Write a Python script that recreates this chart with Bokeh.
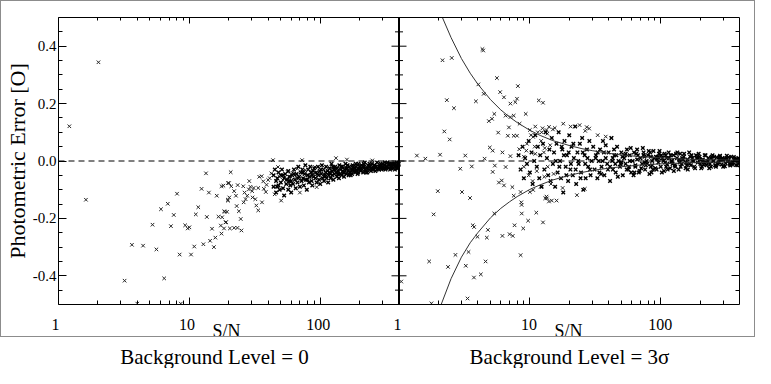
from bokeh.plotting import figure
from bokeh.layouts import column
from bokeh.models import (Range1d, LogScale, LogAxis, LinearAxis, FixedTicker,
                          PrintfTickFormatter, Span)
from bokeh.core.properties import value
from bokeh.embed import file_html
from bokeh.resources import INLINE

# ---------------- data ----------------
x_ticks = [1, 10, 100]
x_tick_labels = ["1", "10", "100"]
y_ticks = [-0.4, -0.2, 0.0, 0.2, 0.4]
y_minor = [-0.45, -0.35, -0.3, -0.25, -0.15, -0.1, -0.05,
           0.05, 0.1, 0.15, 0.25, 0.3, 0.35, 0.45]
sn_range = [1, 400]
err_range = [-0.5, 0.5]
x_title = "S/N"
y_title = "Photometric Error [O]"
panel_titles = ["Background Level = 0", "Background Level = 3\u03c3"]

# left panel: scattered points
left_sn = [1.21, 2.02, 1.62, 3.2, 3.64, 4.43, 4.0, 5.23, 5.6, 6.07, 6.42, 6.84, 7.23, 7.6,
           8.05, 8.43, 8.6, 9.29, 9.72, 10.0, 10.3, 10.9, 11.2, 11.7, 12.4, 12.8, 13.4, 13.6,
           14.1, 14.4, 14.9, 15.4, 15.8, 16.2, 16.7, 17.4, 17.6, 18.2, 18.5, 18.9, 19.4, 19.7,
           20.1, 20.4, 20.7,
           17.6, 19.7, 20.9, 22.0, 20.2, 22.7, 19.7, 18.6, 17.8, 19.1, 18.4, 22.0, 23.3, 23.0,
           23.9, 24.7, 25.0, 25.8, 26.4, 26.9, 27.7, 28.5, 29.3, 30.2, 31.0, 31.9, 32.5, 33.6,
           34.2, 35.7, 36.7, 37.1, 38.4, 38.9, 40.0, 41.1, 42.3, 43.6, 44.9, 46.3, 47.6, 50.3,
           48.9, 51.8, 54.8, 56.3, 58.0, 59.7, 61.4, 65.0, 66.8, 69.9, 72.7, 74.6, 76.8, 81.4,
           86.1, 94.0, 91.3, 23.4, 26.0, 28.7, 30.4, 33.6, 35.9, 132, 160, 250]
left_err = [0.121, 0.344, -0.135, -0.417, -0.292, -0.295, -0.497, -0.222, -0.308, -0.168,
            -0.409, -0.149, -0.227, -0.188, -0.114, -0.326, -0.497, -0.224, -0.235, -0.231,
            -0.326, -0.298, -0.186, -0.161, -0.097, -0.29, -0.043, -0.195, -0.110, -0.278,
            -0.236, -0.300, -0.267, -0.121, -0.194, -0.225, -0.253, -0.086, -0.175, -0.214,
            -0.177, -0.135, -0.077, -0.235, -0.039,
            -0.088, -0.077, -0.088, -0.105, -0.127, -0.121, -0.138, -0.177, -0.196, -0.213,
            -0.235, -0.233, -0.233, -0.157, -0.175, -0.202, -0.242, -0.088, -0.110, -0.133,
            -0.121, -0.099, -0.090, -0.105, -0.094, -0.133, -0.155, -0.172, -0.055, -0.053,
            -0.071, -0.097, -0.108, -0.083, -0.066, -0.060, -0.043, 0.003, -0.116, -0.088,
            -0.021, -0.138, -0.055, -0.066, -0.066, -0.038, -0.077, -0.055, -0.041, -0.055,
            -0.027, -0.110, 0.003, -0.066, -0.032, -0.049, -0.038, -0.091, -0.021, -0.084,
            -0.144, -0.070, -0.127, -0.094, -0.144, 0.010, 0.005, 0.002]

# left panel: dense band
left_band_sn = [44, 44, 45, 46, 46, 47, 48, 48, 49, 50, 50, 51, 52, 53, 53, 54, 55, 56, 57, 57,
                58, 59, 60, 60,
                61, 62, 63, 64, 65, 66, 67, 68, 69, 70, 71, 72, 73, 74, 75, 76, 77, 78, 79, 80,
                81, 82, 83, 84, 85, 86, 87, 88, 89, 90,
                92, 93, 94, 96, 97, 98, 99, 100, 102, 103, 104, 106, 107, 108, 110, 111, 112,
                114, 115, 116, 118, 119, 120, 122, 123, 124, 126, 127, 128, 130,
                132, 134, 135, 137, 139, 140, 142, 144, 146, 148, 150, 152, 154, 156, 158, 160,
                163, 165, 167, 170, 172, 175, 177, 180, 182, 185, 188, 190, 193, 196, 198, 200,
                204, 207, 210, 213, 216, 219, 222, 226, 229, 232, 236, 240, 244, 248, 252, 256,
                260, 264, 268, 272, 277, 281, 286, 290, 295, 300,
                305, 310, 315, 320, 326, 331, 337, 342, 348, 354, 360, 366, 372, 378, 384, 390,
                396,
                125, 138, 145, 153, 162, 171, 178, 187, 195, 205, 215, 225, 235, 246, 258, 270,
                283, 297, 312, 325, 340, 355, 370, 385, 398,
                47, 52, 58, 63, 68, 74, 80, 87, 95, 101, 109, 117, 129, 136, 149, 157, 168, 179,
                189, 199, 211, 223, 238, 250, 263, 276, 289, 302, 318, 333, 350, 363, 376, 392]
left_band_err = [-0.05, -0.09, -0.03, -0.07, -0.11, -0.06, -0.04, -0.085, -0.10, -0.05,
                 -0.075, -0.03, -0.095, -0.06, -0.12, -0.045, -0.08, -0.065, -0.10, -0.035,
                 -0.055, -0.085, -0.07, -0.11,
                 -0.05, -0.08, -0.03, -0.065, -0.095, -0.045, -0.075, -0.02, -0.055, -0.09,
                 -0.04, -0.07, -0.03, -0.06, -0.085, -0.045, -0.015, -0.065, -0.10, -0.05,
                 -0.03, -0.075, -0.055, -0.02, -0.04, -0.07, -0.085, -0.035, -0.055, -0.025,
                 -0.06, -0.04, -0.075, -0.02, -0.05, -0.065, -0.035, -0.08, -0.045, -0.015,
                 -0.06, -0.03, -0.07, -0.05, -0.04, -0.02, -0.06, -0.035, -0.075, -0.05,
                 -0.025, -0.045, -0.06, -0.01, -0.035, -0.05, -0.065, -0.03, -0.045, -0.02,
                 -0.04, -0.055, -0.025, -0.035, -0.06, -0.015, -0.045, -0.03, -0.05, -0.02,
                 -0.04, -0.055, -0.03, -0.01, -0.045, -0.025, -0.035, -0.05, -0.02, -0.04,
                 -0.03, -0.045, -0.015, -0.035, -0.025, -0.04, -0.02, -0.03, -0.045, -0.01,
                 -0.03, -0.02,
                 -0.035, -0.015, -0.03, -0.04, -0.02, -0.005, -0.03, -0.025, -0.04, -0.015,
                 -0.03, -0.02, -0.035, -0.01, -0.025, -0.03, -0.015, -0.035, -0.02, -0.005,
                 -0.025, -0.03, -0.015, -0.02, -0.03, -0.01,
                 -0.025, -0.015, -0.03, -0.02, -0.005, -0.025, -0.015, -0.03, -0.02, -0.01,
                 -0.025, -0.015, -0.03, -0.02, -0.005, -0.02, -0.015,
                 -0.02, -0.045, -0.02, -0.04, -0.015, -0.05, -0.03, -0.01, -0.04, -0.025,
                 -0.01, -0.04, -0.02, -0.025, -0.015, -0.03, -0.02, -0.025, -0.005, -0.02,
                 -0.01, -0.02, -0.01, -0.025, -0.01,
                 -0.09, -0.05, -0.07, -0.045, -0.06, -0.04, -0.065, -0.05, -0.045, -0.03,
                 -0.055, -0.04, -0.03, -0.045, -0.035, -0.025, -0.04, -0.02, -0.035, -0.025,
                 -0.02, -0.035, -0.01, -0.03, -0.02, -0.025, -0.01, -0.02, -0.025, -0.01,
                 -0.025, -0.01, -0.015, -0.025]

# right panel: scattered points
right_sn = [4.34, 4.40, 2.15, 2.53, 2.32, 2.63, 2.22, 2.44, 4.04, 4.44, 3.87, 5.6, 5.93, 6.34,
            8.1, 7.1, 7.74, 7.97, 9.3, 11.7, 12.6, 4.86, 5.14, 5.35, 6.53, 7.1, 7.53, 6.92,
            8.35, 5.73, 6.79, 7.53, 7.97, 4.94, 5.2, 1.37, 1.59, 2.06, 3.21, 4.51, 6.17, 7.1,
            8.3, 9.4, 10.0, 10.6, 12.5, 13.4, 14.0,
            2.94, 3.6, 1.98, 1.84, 3.03, 3.49, 1.7, 2.37, 2.7, 3.24, 3.4, 3.74, 4.22, 3.34,
            1.77, 1.04, 3.66, 3.75, 3.98, 4.78, 4.69, 4.59, 5.35, 6.17, 7.0, 7.4, 8.5, 7.64,
            8.9, 9.7, 8.67, 8.6, 8.65, 11.2, 12.6, 13.1, 7.53, 8.5, 10.0, 10.6, 13.4, 14.0,
            5.8, 6.1, 6.34, 7.35, 5.2, 5.4, 6.53,
            22.9, 26.3, 13.5, 14.7, 16.0, 17.8, 27.2, 28.4, 41.9,
            9.5, 10.2, 10.9, 11.5, 12.2, 12.8, 13.6, 14.3, 15.0, 9.0, 11.0, 13.0,
            9.0, 9.8, 10.5, 11.3, 12.1, 12.9, 13.7, 14.5, 15.2,
            11.0, 12.3, 15.5, 18.0, 20.5, 24.0, 26.5, 33.0, 38.0]
right_err = [0.390, 0.385, 0.351, 0.359, 0.212, 0.184, 0.103, 0.075, 0.267, 0.234, 0.208,
             0.289, 0.240, 0.222, 0.261, 0.200, 0.205, 0.217, 0.164, 0.211, 0.203, 0.139,
             0.147, 0.164, 0.158, 0.153, 0.158, 0.117, 0.130, 0.099, 0.088, 0.088, 0.088,
             0.047, 0.036, 0.019, 0.008, 0.022, 0.019, 0.008, 0.030, 0.017, 0.041, 0.036,
             0.108, 0.084, 0.114, 0.108, 0.119,
             -0.027, -0.019, -0.105, -0.186, -0.108, -0.129, -0.350, -0.369, -0.327, -0.365,
             -0.317, -0.406, -0.395, -0.479, -0.496, -0.420, -0.224, -0.230, -0.264, -0.240,
             -0.267, -0.350, -0.183, -0.261, -0.255, -0.261, -0.328, -0.224, -0.235, -0.208,
             -0.183, -0.144, -0.153, -0.180, -0.214, -0.130, -0.121, -0.108, -0.108, -0.101,
             -0.124, -0.141, -0.075, -0.068, -0.085, -0.091, -0.038, -0.016, -0.021,
             -0.119, -0.097, -0.130, -0.138, -0.138, -0.094, 0.118, 0.113, 0.079,
             0.06, 0.09, 0.05, 0.10, 0.07, 0.03, 0.095, 0.055, 0.11, 0.015, 0.025, 0.045,
             -0.02, -0.05, -0.07, -0.035, -0.09, -0.055, -0.02, -0.08, -0.045,
             0.12, 0.10, 0.115, 0.13, 0.12, 0.125, 0.105, 0.09, 0.085]

# right panel: dense band
right_band_sn = [8.2, 8.5, 8.8, 9.0, 9.2, 9.5, 9.8, 10.0, 10.3, 10.5, 10.8, 11.0, 11.3, 11.5,
                 11.8, 12.0, 12.3, 12.6, 12.9, 13.2, 13.5, 13.8, 14.1, 14.4, 14.7, 15.0,
                 15.3, 15.6, 16.0, 16.3, 16.6, 17.0, 17.3, 17.7, 18.0, 18.4, 18.8, 19.2, 19.6,
                 20.0, 20.4, 20.8, 21.3, 21.7, 22.2, 22.6, 23.1, 23.6, 24.1, 24.6, 25.1, 25.6,
                 26.2, 26.7, 27.3, 27.9, 28.5, 29.1, 29.7,
                 15.8, 16.8, 17.5, 18.2, 19.0, 19.8, 20.6, 21.5, 22.4, 23.4, 24.4, 25.4, 26.5,
                 27.6, 28.8,
                 30.5, 31.2, 32.0, 32.8, 33.6, 34.4, 35.3, 36.2, 37.1, 38.0, 39.0, 40.0, 41.0,
                 42.0, 43.1, 44.2, 45.3, 46.4, 47.6, 48.8, 50.0, 51.3, 52.6, 53.9, 55.2, 56.6,
                 58.0, 59.5, 31.8, 34.0, 36.8, 39.5, 42.6, 45.8, 49.4, 53.2, 57.3,
                 61, 62.5, 64, 66, 68, 70, 72, 74, 76, 78, 80, 82, 84, 86, 88, 91, 94, 97, 100,
                 103, 106, 109, 112, 115, 118, 63, 67, 71, 75, 79, 83, 87, 92, 96, 101, 105,
                 110, 116,
                 121, 125, 129, 133, 137, 141, 145, 150, 155, 160, 165, 170, 175, 180, 186,
                 192, 198, 204, 210, 217, 224, 231, 238, 245, 123, 131, 139, 148, 158, 168,
                 178, 190, 201, 214, 228, 242,
                 252, 260, 268, 276, 284, 292, 300, 309, 318, 327, 336, 346, 356, 366, 376,
                 387, 398, 256, 264, 280, 296, 313, 331, 350, 370, 392,
                 33, 35, 38, 41, 44, 47, 51, 55, 59, 62, 65, 69, 73, 77, 81, 85, 89, 93, 98,
                 102, 107, 113, 119, 126, 134, 142, 151, 161, 172, 183, 195, 207, 220, 235,
                 249, 265, 282, 300, 320, 340, 362, 385,
                 36, 43, 50, 58, 66, 76, 86, 97, 108, 122, 138, 156, 176, 199, 225, 254, 287,
                 325, 367, 396,
                 45, 54, 64, 74, 84, 95, 111, 128, 146, 166, 188, 213, 242, 273, 310, 352, 380]
right_band_err = [0.02, -0.03, 0.05, -0.06, 0.01, -0.01, 0.07, -0.04, 0.03, -0.08, 0.0, 0.09,
                  -0.02, 0.05, -0.06, 0.02, -0.09, 0.06, -0.03, 0.10, 0.01, -0.05, 0.04,
                  -0.07, 0.08, -0.01,
                  0.03, -0.09, 0.06, -0.04, 0.10, 0.0, -0.06, 0.04, -0.11, 0.07, -0.02, 0.02,
                  -0.07, 0.09, -0.03, 0.05, -0.05, 0.01, 0.12, -0.08, 0.03, -0.01, 0.06,
                  -0.04, 0.08, -0.10, 0.02, -0.06, 0.04, -0.02, 0.07, -0.05, 0.0,
                  0.0, -0.02, 0.05, 0.02, -0.05, 0.03, -0.01, 0.06, -0.03, 0.0, -0.06, 0.03,
                  -0.01, 0.01, -0.03,
                  0.05, -0.03, 0.02, -0.06, 0.0, 0.04, -0.02, 0.07, -0.05, 0.01, -0.01, 0.03,
                  -0.07, 0.08, -0.03, 0.02, -0.04, 0.05, 0.0, -0.02, 0.03, -0.05, 0.01, -0.01,
                  0.04, -0.03, 0.02, -0.04, 0.01, -0.04, 0.03, -0.03, 0.0, 0.02, -0.01, 0.02,
                  -0.02,
                  0.0, 0.03, -0.02, 0.04, -0.04, 0.01, -0.01, 0.03, -0.03, 0.0, 0.02, -0.045,
                  0.015, -0.015, 0.035, -0.025, 0.005, 0.025, -0.02, 0.01, -0.035, 0.02, -0.01,
                  0.03, -0.025, -0.04, 0.02, -0.025, 0.015, -0.01, 0.03, -0.03, 0.015, -0.005,
                  0.02, 0.0, -0.02, 0.01,
                  0.0, 0.02, -0.02, 0.01, -0.03, 0.025, -0.01, 0.015, -0.025, 0.005, 0.03,
                  -0.015, 0.01, -0.02, 0.02, -0.005, 0.015, -0.025, 0.005, 0.02, -0.015, 0.01,
                  -0.01, 0.015, -0.01, 0.025, -0.005, 0.005, -0.015, 0.015, 0.0, 0.01, -0.01,
                  -0.005, 0.0, -0.02,
                  0.0, -0.015, 0.012, -0.005, 0.018, -0.012, 0.005, -0.018, 0.01, 0.0, -0.01,
                  0.015, -0.005, 0.008, -0.014, 0.004, -0.006, 0.015, -0.02, 0.005, 0.01,
                  -0.008, 0.012, -0.012, 0.0, 0.01,
                  0.03, -0.045, 0.055, -0.02, 0.04, -0.055, 0.015, -0.03, 0.045, -0.05, 0.025,
                  -0.035, 0.045, -0.015, 0.035, -0.04, 0.01, -0.03, 0.035, -0.04, 0.025, -0.03,
                  0.02, -0.035, 0.03, -0.02, 0.025, -0.03, 0.02, -0.025, 0.025, -0.02, 0.02,
                  -0.025, 0.02, -0.015, 0.015, -0.02, 0.018, -0.016, 0.014, -0.015,
                  0.0, 0.01, -0.005, 0.0, 0.005, -0.005, 0.0, 0.01, -0.005, 0.0, 0.005, -0.005,
                  0.0, 0.005, -0.005, 0.0, 0.005, -0.003, 0.002, 0.0,
                  -0.01, 0.025, -0.015, 0.02, -0.02, 0.015, 0.01, -0.015, 0.01, -0.01, 0.01,
                  -0.012, 0.01, -0.01, 0.008, -0.008, 0.008]

# right panel: envelope curves
curve_sn = [2.1, 2.5, 3, 3.5, 4, 5, 6, 7, 8, 10, 12, 15, 20, 25, 30, 40, 50, 70, 100, 150,
            200, 300, 400]
curve_upper = [0.51, 0.43, 0.357, 0.306, 0.268, 0.214, 0.178, 0.153, 0.134, 0.107, 0.089,
               0.071, 0.054, 0.043, 0.036, 0.027, 0.021, 0.015, 0.011, 0.007, 0.005, 0.0036,
               0.0027]
curve_lower = [-0.50, -0.41, -0.335, -0.285, -0.25, -0.198, -0.165, -0.142, -0.124, -0.099,
               -0.083, -0.066, -0.05, -0.04, -0.033, -0.025, -0.02, -0.014, -0.01, -0.0066,
               -0.005, -0.0033, -0.0025]

# ---------------- layout / style ----------------
FONT = "Liberation Serif"
W = 753                     # inner width of the grey box
ML, PW = 54, 342            # left border, width of one panel
MR = W - ML - 2 * PW
MT, FH, MB = 16, 287, 9
HA = MT + FH + MB           # panels
HB = 23                     # tick labels + S/N (inside the grey box)
HC = 31                     # panel titles (below the box)
MARK = "#262626"

lo, hi = sn_range
shift = hi / lo
x_rng = Range1d(lo, hi * shift)
x_rng_right = Range1d(lo / shift, hi)

p = figure(width=W, height=HA, output_backend="svg", toolbar_location=None,
           x_axis_type="log", x_range=x_rng,
           y_range=Range1d(err_range[0], err_range[1]),
           min_border_left=ML, min_border_right=MR, min_border_top=MT, min_border_bottom=MB)
p.frame_align = False
p.extra_x_ranges = {"right": x_rng_right}
p.extra_x_scales = {"right": LogScale()}
p.xgrid.visible = False
p.ygrid.visible = False
p.outline_line_color = None
p.background_fill_color = "white"
p.border_fill_color = "white"

all_ticks = list(x_ticks) + [t * shift for t in x_ticks]
all_labels = list(x_tick_labels) * 2
minor_base = [m * d for d in x_ticks for m in range(2, 10) if m * d < hi]
all_minor = minor_base + [m * shift for m in minor_base]


def style_axis(ax, labels):
    ax.major_tick_in = 7
    ax.major_tick_out = 0
    ax.minor_tick_in = 4
    ax.minor_tick_out = 0
    ax.axis_line_color = "black"
    ax.major_tick_line_color = "black"
    ax.minor_tick_line_color = "black"
    ax.major_label_text_font = FONT
    ax.major_label_text_font_style = "normal"
    if labels:
        ax.major_label_text_font_size = "15px"
        ax.major_label_text_color = "black"
    else:
        ax.major_label_text_font_size = "5px"
        ax.major_label_text_color = None
        ax.major_label_standoff = 0


bx = p.xaxis[0]
bx.ticker = FixedTicker(ticks=all_ticks, minor_ticks=all_minor)
style_axis(bx, False)

tx = LogAxis(ticker=FixedTicker(ticks=all_ticks, minor_ticks=all_minor))
style_axis(tx, False)
tx.major_tick_in = 6
tx.minor_tick_in = 3
p.add_layout(tx, "above")

ly = p.yaxis[0]
ly.ticker = FixedTicker(ticks=y_ticks, minor_ticks=y_minor)
ly.formatter = PrintfTickFormatter(format="%.1f")
style_axis(ly, True)
ly.major_tick_in = 8
ly.major_label_standoff = 2
ly.axis_label = y_title
ly.axis_label_text_font = FONT
ly.axis_label_text_font_style = "normal"
ly.axis_label_text_font_size = "22px"
ly.axis_label_text_color = "black"
ly.axis_label_standoff = 0

ry = LinearAxis(ticker=FixedTicker(ticks=y_ticks, minor_ticks=y_minor))
style_axis(ry, False)
ry.major_tick_in = 8
p.add_layout(ry, "right")

# zero line and panel divider
p.add_layout(Span(location=0, dimension="width", line_color="black", line_width=1,
                  line_dash="6 4"))
p.add_layout(Span(location=hi, dimension="height", line_color="black", line_width=2))
p.scatter(x=[hi] * len(y_ticks), y=y_ticks, marker="dash", size=15, line_color="black",
          line_width=1)
p.scatter(x=[hi] * len(y_minor), y=y_minor, marker="dash", size=8, line_color="black",
          line_width=1)

# data
p.scatter(x=left_sn, y=left_err, marker="x", size=5, line_color=MARK, line_width=1)
p.scatter(x=left_band_sn, y=left_band_err, marker="x", size=5, line_color="black",
          line_width=1.4)
p.scatter(x=right_sn, y=right_err, marker="x", size=5, line_color=MARK, line_width=1,
          x_range_name="right")
p.scatter(x=right_band_sn, y=right_band_err, marker="x", size=5, line_color="black",
          line_width=1.4, x_range_name="right")
p.line(x=curve_sn, y=curve_upper, line_color="#333333", line_width=1, x_range_name="right")
p.line(x=curve_sn, y=curve_lower, line_color="#333333", line_width=1, x_range_name="right")

# strip under the panels: tick labels and S/N, on a log scale aligned with the panels
b_rng = Range1d(lo * shift ** (-ML / PW), lo * shift ** ((W - ML) / PW))
b = figure(width=W, height=HB, output_backend="svg", toolbar_location=None,
           x_axis_type=None, y_axis_type=None, x_range=b_rng, y_range=Range1d(0, HB),
           min_border=0, min_border_left=0, min_border_right=0, min_border_top=0,
           min_border_bottom=0)
b.frame_align = False
b.x_scale = LogScale()
b.outline_line_color = None
b.background_fill_color = "white"
b.border_fill_color = "white"
b.text(x=all_ticks, y=[HB - 11] * len(all_ticks), text=all_labels, text_font=value(FONT),
       text_font_size="16px", text_align="center", text_baseline="alphabetic",
       text_color="black")
mid = (lo * hi) ** 0.5
b.text(x=[mid, mid * shift], y=[6, 6], text=[x_title, x_title], text_font=value(FONT),
       text_font_size="18px", text_align="center", text_baseline="alphabetic",
       text_color="black")

# titles under the box
c = figure(width=W, height=HC, output_backend="svg", toolbar_location=None,
           x_axis_type=None, y_axis_type=None, x_range=Range1d(0, W), y_range=Range1d(0, HC),
           min_border=0, min_border_left=0, min_border_right=0, min_border_top=0,
           min_border_bottom=0)
c.frame_align = False
c.outline_line_color = None
c.background_fill_color = "white"
c.border_fill_color = "white"
c.text(x=[214, 569], y=[12, 12], text=panel_titles, text_font=value(FONT),
       text_font_size="21px", text_align="center", text_baseline="alphabetic",
       text_color="black")

boxed = column(p, b, spacing=0, styles={"border": "1px solid #8c8c8c"})
layout = column(boxed, c, spacing=0)
open("out.html", "w").write(file_html(layout, INLINE))
